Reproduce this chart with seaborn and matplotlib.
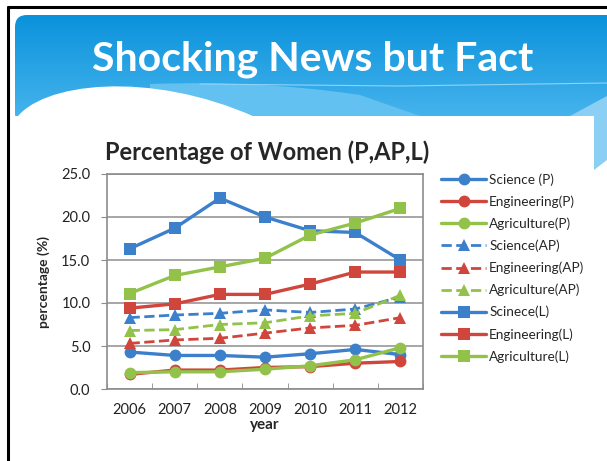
import numpy as np
import pandas as pd
import matplotlib
matplotlib.use("Agg")
import matplotlib.pyplot as plt
from matplotlib.patches import FancyBboxPatch, Rectangle, Polygon, PathPatch
from matplotlib.path import Path
import seaborn as sns

sns.set_style("white")
plt.rcParams['font.family'] = ['Lato', 'DejaVu Sans']

# data
years = ['2006', '2007', '2008', '2009', '2010', '2011', '2012']
science_p = [4.3, 3.9, 3.9, 3.7, 4.1, 4.6, 4.0]
engineering_p = [1.7, 2.2, 2.2, 2.5, 2.6, 3.0, 3.2]
agriculture_p = [1.9, 2.0, 2.0, 2.3, 2.7, 3.4, 4.8]
science_ap = [8.3, 8.6, 8.8, 9.2, 8.9, 9.3, 10.7]
engineering_ap = [5.3, 5.7, 5.9, 6.5, 7.1, 7.4, 8.3]
agriculture_ap = [6.8, 6.9, 7.5, 7.7, 8.5, 8.8, 10.9]
science_l = [16.3, 18.7, 22.2, 20.0, 18.4, 18.2, 15.0]
engineering_l = [9.4, 9.9, 11.0, 11.0, 12.2, 13.6, 13.6]
agriculture_l = [11.1, 13.2, 14.2, 15.2, 17.9, 19.3, 21.0]

labels = ['Science (P)', 'Engineering(P)', 'Agriculture(P)',
          'Science(AP)', 'Engineering(AP)', 'Agriculture(AP)',
          'Scinece(L)', 'Engineering(L)', 'Agriculture(L)']
series = [science_p, engineering_p, agriculture_p,
          science_ap, engineering_ap, agriculture_ap,
          science_l, engineering_l, agriculture_l]

blue = '#3c80cc'
red = '#d0463c'
green = '#92c24a'
colors = [blue, red, green] * 3
markers = ['o'] * 3 + ['^'] * 3 + ['s'] * 3
styles = ['-'] * 3 + ['--'] * 3 + ['-'] * 3
msizes = [8.5] * 3 + [8.5] * 3 + [9] * 3

W, H = 607, 461
fig = plt.figure(figsize=(W / 100, H / 100), dpi=100)
fig.patch.set_facecolor('white')

# slide background
bg = fig.add_axes([0, 0, 1, 1])
bg.set_xlim(0, W)
bg.set_ylim(H, 0)
bg.axis('off')

header = FancyBboxPatch((15, 15), 620, 110, boxstyle="round,pad=0,rounding_size=12",
                        fc='none', ec='none')
bg.add_patch(header)
grad = np.linspace(0, 1, 100).reshape(-1, 1)
cmap = matplotlib.colors.LinearSegmentedColormap.from_list('hdr', ['#0a92db', '#4ab6ee'])
im = bg.imshow(grad, cmap=cmap, extent=[15, W, 125, 15], aspect='auto', zorder=1)
im.set_clip_path(header)
bg.set_xlim(0, W)
bg.set_ylim(H, 0)

# lighter dotted band and right triangle
band = Path([(150, 84), (260, 80), (360, 95), (420, 116), (150, 116), (150, 84)],
            [Path.MOVETO, Path.CURVE3, Path.CURVE3, Path.LINETO, Path.LINETO, Path.CLOSEPOLY])
bg.add_patch(PathPatch(band, fc='#62c1f1', ec='none', zorder=2))
bg.add_patch(Polygon([(570, 116), (607, 96), (607, 160), (594, 170), (594, 116)],
                     closed=True, fc='#8ccff4', ec='none', zorder=2))
# faint white line
bg.plot([200, 400, 607], [84, 86, 83], color='#8fd3f7', lw=0.8, zorder=2)

# white content area with the wave
bg.add_patch(Rectangle((15, 116), 579, 350, fc='white', ec='none', zorder=3))
wave = Path([(15, 120), (40, 82), (150, 70), (255, 117), (15, 120)],
            [Path.MOVETO, Path.CURVE4, Path.CURVE4, Path.CURVE4, Path.CLOSEPOLY])
bg.add_patch(PathPatch(wave, fc='white', ec='none', zorder=3))

# black frame
bg.plot([8, 8], [7, H], color='black', lw=2.2, zorder=5)
bg.plot([8, W], [7, 7], color='black', lw=2.2, zorder=5)

bg.text(313, 59, 'Shocking News but Fact', color='white', fontsize=29.5,
        fontweight='bold', ha='center', va='center', zorder=6)

# chart
ax = fig.add_axes([107 / W, (H - 389) / H, (423 - 107) / W, (389 - 174) / H])
for lab, vals, c, m, ls, ms in zip(labels, series, colors, markers, styles, msizes):
    sns.lineplot(x=years, y=vals, ax=ax, color=c, marker=m, linestyle=ls,
                 linewidth=2.4 if ls == '-' else 2.0, markersize=ms,
                 markeredgecolor=c, markeredgewidth=0, label=lab, sort=False)

ax.set_xlim(-0.5, 6.5)
ax.set_ylim(0, 25)
ax.set_yticks([0, 5, 10, 15, 20, 25])
ax.set_yticklabels(['%.1f' % v for v in [0, 5, 10, 15, 20, 25]])
ax.yaxis.grid(True, color='#a6a6a6', linewidth=1.4)
ax.set_axisbelow(True)
for s in ax.spines.values():
    s.set_color('#8c8c8c')
    s.set_linewidth(1.2)
ax.set_xticks(range(7))
ax.set_xticks(np.arange(-0.5, 7, 1), minor=True)
ax.tick_params(axis='x', which='major', length=0, pad=10, labelsize=10.5, labelcolor='#222222')
ax.tick_params(axis='x', which='minor', length=4, direction='in', color='#8c8c8c', bottom=True)
ax.tick_params(axis='y', length=4, direction='out', color='#8c8c8c', left=True, pad=8,
               labelsize=10.5, labelcolor='#222222')
ax.set_xlabel('year', fontsize=11, fontweight='bold', labelpad=0.5)
ax.set_ylabel('percentage (%)', fontsize=10, fontweight='bold', labelpad=8)
ax.set_title('Percentage of Women (P,AP,L)', fontsize=17, fontweight='bold',
             x=(267 - 107) / (423 - 107), pad=10)

ax.legend(loc='upper left', bbox_to_anchor=(436 / W, 1 - 168 / H),
          bbox_transform=fig.transFigure, frameon=False, fontsize=9.8,
          handlelength=3.3, handletextpad=0.2, labelspacing=0.7, borderaxespad=0)

fig.savefig('out.png', dpi=100)
